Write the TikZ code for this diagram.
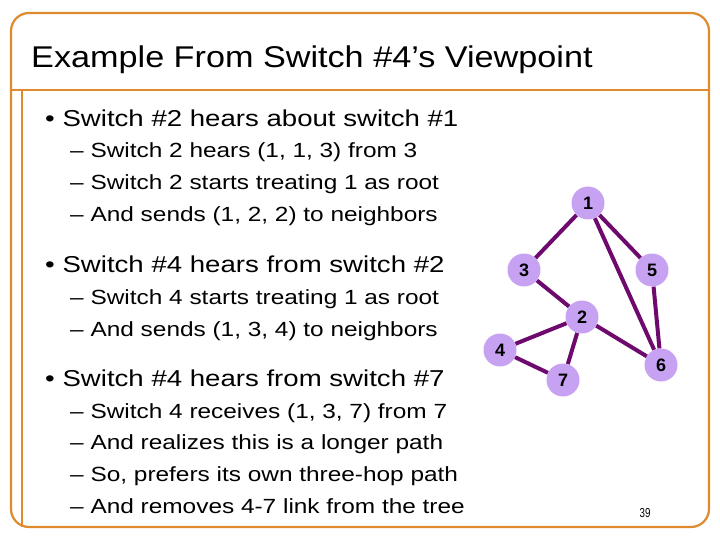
\documentclass[tikz,border=0pt]{standalone}
\usepackage{fontspec}
\setmainfont{Liberation Sans}
\begin{document}
\begin{tikzpicture}[x=1pt,y=-1pt,
  frame/.style={draw=orangeF,line width=2.2pt},
  sw/.style={circle,fill=nodeF,minimum size=33pt,inner sep=0pt,font=\fontsize{18}{18}\selectfont\bfseries},
  link/.style={draw=linkC,line width=4pt},
  lone/.style={anchor=base west,inner sep=0pt,xscale=1.2,font=\fontsize{23}{23}\selectfont},
  ltwo/.style={anchor=base west,inner sep=0pt,xscale=1.19,font=\fontsize{20.5}{20.5}\selectfont}]
\definecolor{orangeF}{HTML}{DF8A2C}
\definecolor{nodeF}{HTML}{C8A2F2}
\definecolor{linkC}{HTML}{6E0A6E}
\useasboundingbox (0,0) rectangle (720,540);
\draw[frame,rounded corners=18pt] (11,13) rectangle (709,527);
\draw[frame] (11,90) -- (709,90);
\draw[frame] (22,90) -- (22,527);
\node[anchor=base west,inner sep=0pt,xscale=1.14,font=\fontsize{30}{30}\selectfont] (title) at (31,68) {Example From Switch \#4’s Viewpoint};
\node[lone] (a1) at (45,127) {\textbullet\ Switch \#2 hears about switch \#1};
\node[ltwo] (a2) at (70,158) {– Switch 2 hears (1, 1, 3) from 3};
\node[ltwo] (a3) at (70,190) {– Switch 2 starts treating 1 as root};
\node[ltwo] (a4) at (70,222) {– And sends (1, 2, 2) to neighbors};
\node[lone] (b1) at (45,272) {\textbullet\ Switch \#4 hears from switch \#2};
\node[ltwo] (b2) at (70,304) {– Switch 4 starts treating 1 as root};
\node[ltwo] (b3) at (70,336) {– And sends (1, 3, 4) to neighbors};
\node[lone] (c1) at (45,386) {\textbullet\ Switch \#4 hears from switch \#7};
\node[ltwo] (c2) at (70,418) {– Switch 4 receives (1, 3, 7) from 7};
\node[ltwo] (c3) at (70,449) {– And realizes this is a longer path};
\node[ltwo] (c4) at (70,481) {– So, prefers its own three-hop path};
\node[ltwo] (c5) at (70,513) {– And removes 4-7 link from the tree};
\node[anchor=base,inner sep=0pt,font=\fontsize{13}{13}\selectfont,xscale=0.75] (pg) at (645,517) {39};
\node[sw] (n1) at (588,203) {1};
\node[sw] (n3) at (524,270) {3};
\node[sw] (n5) at (652,270) {5};
\node[sw] (n2) at (582,317) {2};
\node[sw] (n4) at (500,350) {4};
\node[sw] (n7) at (563,380) {7};
\node[sw] (n6) at (661,365) {6};
\draw[link] (n1) -- (n3);
\draw[link] (n1) -- (n5);
\draw[link] (n1) -- (n6);
\draw[link] (n3) -- (n2);
\draw[link] (n5) -- (n6);
\draw[link] (n2) -- (n4);
\draw[link] (n2) -- (n7);
\draw[link] (n2) -- (n6);
\draw[link] (n4) -- (n7);
\end{tikzpicture}
\end{document}
